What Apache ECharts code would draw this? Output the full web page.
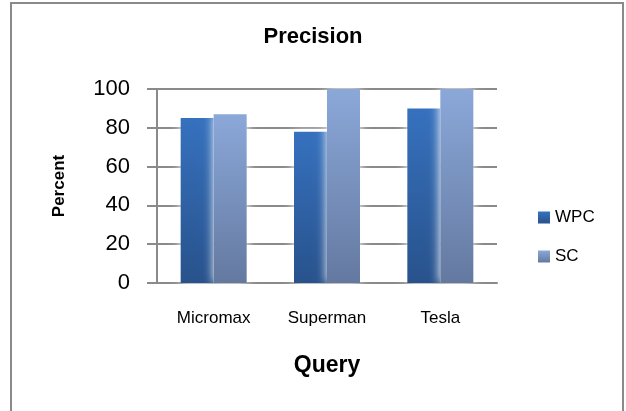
<!DOCTYPE html>
<html>
<head>
<meta charset="utf-8">
<script src="https://cdn.jsdelivr.net/npm/echarts@6/dist/echarts.min.js"></script>
<style>
  html, body { margin: 0; padding: 0; background: #fff; }
  #chart { width: 626px; height: 411px; }
</style>
</head>
<body>
<div id="chart"></div>
<script>
// Precision per query, in percent
const queries = ['Micromax', 'Superman', 'Tesla'];
const wpcValues = [85, 78, 90];
const scValues = [87, 100, 100];
const seriesNames = ['WPC', 'SC'];

const FONT = '"Liberation Sans", Arial, sans-serif';

function vGrad(top, bottom) {
  return new echarts.graphic.LinearGradient(0, 0, 0, 1, [
    { offset: 0, color: top },
    { offset: 1, color: bottom }
  ]);
}

const chart = echarts.init(document.getElementById('chart'));
chart.setOption({
  animation: false,
  backgroundColor: '#fff',
  title: {
    text: 'Precision',
    left: 'center',
    top: 21,
    textStyle: { fontFamily: FONT, fontSize: 22, fontWeight: 'bold', color: '#000' }
  },
  graphic: [{
    type: 'rect',
    shape: { x: 11, y: 3, width: 612, height: 430 },
    style: { fill: 'none', stroke: '#8a8a8a', lineWidth: 2 },
    silent: true,
    z: -1
  }],
  legend: {
    orient: 'vertical',
    left: 538,
    top: 209,
    padding: 0,
    itemWidth: 12,
    itemHeight: 12,
    itemGap: 22,
    icon: 'rect',
    data: seriesNames,
    textStyle: { fontFamily: FONT, fontSize: 17, color: '#000' }
  },
  grid: { left: 157, right: 129, top: 89, bottom: 128, containLabel: false },
  xAxis: {
    type: 'category',
    data: queries,
    name: 'Query',
    nameLocation: 'middle',
    nameGap: 71,
    nameTextStyle: { fontFamily: FONT, fontSize: 23, fontWeight: 'bold', color: '#000' },
    axisLine: { lineStyle: { color: '#8a8a8a', width: 2 } },
    axisTick: { show: false },
    axisLabel: { margin: 27, fontFamily: FONT, fontSize: 17, color: '#000' }
  },
  yAxis: {
    type: 'value',
    min: 0,
    max: 100,
    interval: 20,
    name: 'Percent',
    nameLocation: 'middle',
    nameGap: 89,
    nameTextStyle: { fontFamily: FONT, fontSize: 17, fontWeight: 'bold', color: '#000' },
    axisLine: { show: true, lineStyle: { color: '#8a8a8a', width: 2 } },
    axisTick: { show: true, inside: false, length: 10, lineStyle: { color: '#8a8a8a', width: 2 } },
    axisLabel: { margin: 27, fontFamily: FONT, fontSize: 22, color: '#000' },
    splitLine: { show: true, lineStyle: { color: '#8a8a8a', width: 2 } }
  },
  series: [
    {
      name: seriesNames[0],
      type: 'bar',
      data: wpcValues,
      barWidth: 33,
      barGap: '0%',
      itemStyle: {
        color: vGrad('#3671BE', '#28528C'),
        shadowColor: 'rgba(255,255,255,1)',
        shadowBlur: 10
      }
    },
    {
      name: seriesNames[1],
      type: 'bar',
      data: scValues,
      barWidth: 33,
      barGap: '0%',
      itemStyle: {
        color: vGrad('#8BA8D9', '#6479A0'),
        shadowColor: 'rgba(255,255,255,1)',
        shadowBlur: 10
      }
    }
  ]
});
</script>
</body>
</html>
